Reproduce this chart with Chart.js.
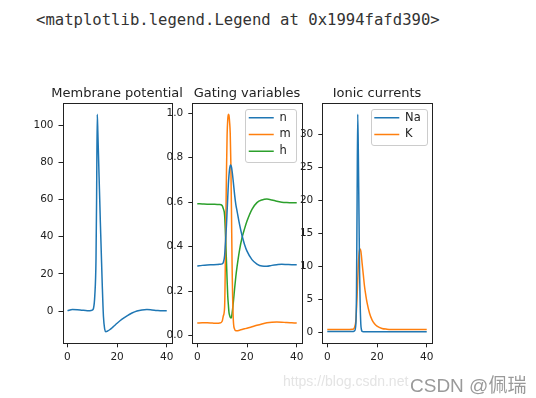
<!DOCTYPE html>
<html>
<head>
<meta charset="utf-8">
<script src="https://cdn.jsdelivr.net/npm/chart.js@4.4.1/dist/chart.umd.min.js"></script>
<style>
  body { margin: 0; background: #fff; }
  #wrap { position: relative; width: 536px; height: 398px; overflow: hidden; }
  canvas { position: absolute; left: 0; top: 0; }
  .out { position: absolute; left: 36px; top: 11px; font: 15.6px "DejaVu Sans Mono", monospace; color: #333; white-space: pre; }
  .wm1 { position: absolute; left: 283px; top: 373px; font: 14px "Liberation Sans", Arial, sans-serif; color: #e4e4e4; white-space: pre; }
  .wm2 { position: absolute; left: 410px; top: 370px; font: 19px "Liberation Sans", "Noto Sans CJK SC", sans-serif; color: #9a9a9a; white-space: pre; }
</style>
</head>
<body>
<div id="wrap">
  <div class="out">&lt;matplotlib.legend.Legend at 0x1994fafd390&gt;</div>
  <canvas id="membrane" width="536" height="398"></canvas>
  <canvas id="gating" width="536" height="398"></canvas>
  <canvas id="currents" width="536" height="398"></canvas>
  <div class="wm1">https://blog.csdn.net</div>
  <div class="wm2">CSDN @佩瑞</div>
</div>
<script>
// time in ms
const time = [0, 2, 4, 6, 8, 9, 10, 10.5, 11, 11.5, 11.75, 12, 12.25, 12.5, 12.75, 13, 13.25, 13.5, 13.75, 14,
  14.5, 15, 15.5, 16, 17, 18, 19, 20, 22, 24, 26, 28, 30, 32, 34, 36, 38, 40];

const voltage = [0.2, 0.8, 0.7, 0.4, 0.2, 0.2, 0.5, 1.5, 8, 28, 62, 106, 96, 84, 72, 60, 48, 37, 26, 15,
  -3, -9.8, -11.2, -10.9, -10.1, -9, -7.8, -6.6, -4.4, -2.6, -1.1, 0, 0.6, 0.8, 0.6, 0.3, 0.1, 0.1];

const nGate = [0.313, 0.316, 0.318, 0.319, 0.32, 0.321, 0.323, 0.33, 0.36, 0.45, 0.5, 0.56, 0.62, 0.68, 0.72, 0.75, 0.764, 0.767, 0.758, 0.74,
  0.69, 0.635, 0.59, 0.56, 0.5, 0.45, 0.41, 0.38, 0.342, 0.322, 0.313, 0.312, 0.316, 0.319, 0.321, 0.32, 0.319, 0.319];
const mGate = [0.057, 0.058, 0.058, 0.057, 0.056, 0.057, 0.065, 0.09, 0.13, 0.52, 0.74, 0.9, 0.97, 0.995, 0.99, 0.96, 0.91, 0.78, 0.57, 0.32,
  0.07, 0.03, 0.022, 0.022, 0.025, 0.028, 0.031, 0.034, 0.04, 0.047, 0.053, 0.058, 0.061, 0.062, 0.061, 0.059, 0.058, 0.057];
const hGate = [0.593, 0.592, 0.591, 0.591, 0.59, 0.59, 0.585, 0.57, 0.54, 0.41, 0.33, 0.25, 0.18, 0.14, 0.105, 0.092, 0.083, 0.08, 0.082, 0.1,
  0.15, 0.21, 0.265, 0.31, 0.385, 0.44, 0.48, 0.515, 0.568, 0.598, 0.61, 0.614, 0.61, 0.604, 0.6, 0.598, 0.597, 0.597];

const iNa = [0.15, 0.15, 0.15, 0.15, 0.15, 0.15, 0.15, 0.15, 0.25, 1.3, 6, 20, 33, 27, 18, 9, 4, 1.2, 0.4, 0.15,
  0.1, 0.1, 0.1, 0.1, 0.1, 0.1, 0.1, 0.1, 0.1, 0.1, 0.1, 0.1, 0.1, 0.1, 0.1, 0.1, 0.1, 0.1];
const iK = [0.45, 0.45, 0.45, 0.45, 0.45, 0.45, 0.46, 0.5, 0.8, 1.8, 3.5, 5.5, 8, 10.3, 11.8, 12.5, 12.6, 12.3, 11.5, 10.5,
  8.7, 6.9, 5.6, 4.5, 2.9, 1.9, 1.3, 0.95, 0.6, 0.48, 0.43, 0.42, 0.42, 0.42, 0.42, 0.42, 0.42, 0.42];

const timeTicks = [0, 20, 40];
const voltTicks = [0, 20, 40, 60, 80, 100];
const gateTicks = [0, 0.2, 0.4, 0.6, 0.8, 1.0];
const currentTicks = [0, 5, 10, 15, 20, 25, 30];

const blue = "#1f77b4", orange = "#ff7f0e", green = "#2ca02c";
const ink = "#222";

function pts(vals) {
  return time.map((t, i) => ({ x: t, y: vals[i] }));
}

function line(label, vals, color) {
  return { label, data: pts(vals), borderColor: color, backgroundColor: color, borderWidth: 1.5,
    pointRadius: 0, cubicInterpolationMode: "monotone", fill: false };
}

// box around the axes + matplotlib-like legend frame in the upper right
const frame = {
  id: "frame",
  beforeDraw(chart) {
    const lg = chart.legend;
    if (!lg || !lg.options.display) return;
    const a = chart.chartArea, ctx = chart.ctx;
    const p = lg.options.labels.padding, fs = lg.options.labels.font.size;
    const n = chart.data.datasets.length;
    const right = a.right - 5, top = a.top + 6, h = n * 16.7 + 2.5;
    const colW = lg.columnSizes[0].width;
    lg.left = right - 6 - colW - p;
    lg.right = lg.left + colW + p;
    lg.top = a.top + 14.5 - p - fs / 2;
    lg.bottom = a.bottom;
    const left = lg.left + p - 3.5;
    ctx.save();
    ctx.beginPath();
    ctx.roundRect(Math.round(left) + 0.5, Math.round(top) + 0.5, Math.round(right - left), Math.round(h), 2.5);
    ctx.fillStyle = "rgba(255,255,255,0.8)";
    ctx.fill();
    ctx.strokeStyle = "#cccccc";
    ctx.lineWidth = 1;
    ctx.stroke();
    ctx.restore();
  },
  afterDraw(chart) {
    const a = chart.chartArea, ctx = chart.ctx;
    ctx.save();
    ctx.strokeStyle = ink;
    ctx.lineWidth = 1;
    const x0 = Math.round(a.left) + 0.5, y0 = Math.round(a.top) + 0.5;
    ctx.strokeRect(x0, y0, Math.round(a.right) - Math.round(a.left), Math.round(a.bottom) - Math.round(a.top));
    ctx.restore();
  }
};

function panel(id, box, title, datasets, yMin, yMax, yTicks, fmt, showLegend) {
  return new Chart(document.getElementById(id), {
    type: "line",
    data: { datasets },
    options: {
      responsive: false,
      animation: false,
      events: [],
      layout: { padding: { left: box.left - 40, right: 536 - box.right - 40, top: box.top - 17.1, bottom: 398 - box.bottom - 25 } },
      scales: {
        x: {
          type: "linear", min: -2, max: 42,
          afterFit: s => { s.height = 25; },
          afterBuildTicks: s => { s.ticks = timeTicks.map(v => ({ value: v })); },
          grid: { drawOnChartArea: false, tickLength: 4, color: ink },
          border: { display: false },
          ticks: { color: ink, font: { family: "DejaVu Sans", size: 10.5 }, padding: 4, maxRotation: 0, autoSkip: false }
        },
        y: {
          type: "linear", min: yMin, max: yMax,
          afterFit: s => { s.width = 40; },
          afterBuildTicks: s => { s.ticks = yTicks.map(v => ({ value: v })); },
          grid: { drawOnChartArea: false, tickLength: 4, color: ink },
          border: { display: false },
          ticks: { color: ink, font: { family: "DejaVu Sans", size: 10.5 }, padding: 5, autoSkip: false, callback: fmt }
        },
        // empty spacer on the right so the title is centred over the axes and not squeezed
        spacer: {
          type: "linear", position: "right", display: true,
          afterFit: s => { s.width = 40; },
          grid: { display: false }, border: { display: false }, ticks: { display: false }
        }
      },
      plugins: {
        title: { display: true, text: title, color: ink,
          font: { family: "DejaVu Sans", size: 13, weight: "normal", lineHeight: 1.2 }, padding: { top: 0, bottom: 1.5 } },
        legend: {
          display: showLegend, position: "chartArea", align: "start",
          labels: { usePointStyle: true, pointStyle: "line", pointStyleWidth: 25, color: ink,
            font: { family: "DejaVu Sans", size: 11.5 }, padding: 5.2 }
        },
        tooltip: { enabled: false }
      }
    },
    plugins: [frame]
  });
}

panel("membrane", { left: 62.5, right: 171.7, top: 103.3, bottom: 343.3 }, "Membrane potential",
  [line("V", voltage, blue)], -17.4, 111.9, voltTicks, v => String(v), false);

panel("gating", { left: 192.3, right: 301.7, top: 103.3, bottom: 343.3 }, "Gating variables",
  [line("n", nGate, blue), line("m", mGate, orange), line("h", hGate, green)],
  -0.034, 1.044, gateTicks, v => v.toFixed(1), true);

panel("currents", { left: 322.3, right: 431.7, top: 103.3, bottom: 343.3 }, "Ionic currents",
  [line("Na", iNa, blue), line("K", iK, orange)], -1.65, 34.65, currentTicks, v => String(v), true);
</script>
</body>
</html>
